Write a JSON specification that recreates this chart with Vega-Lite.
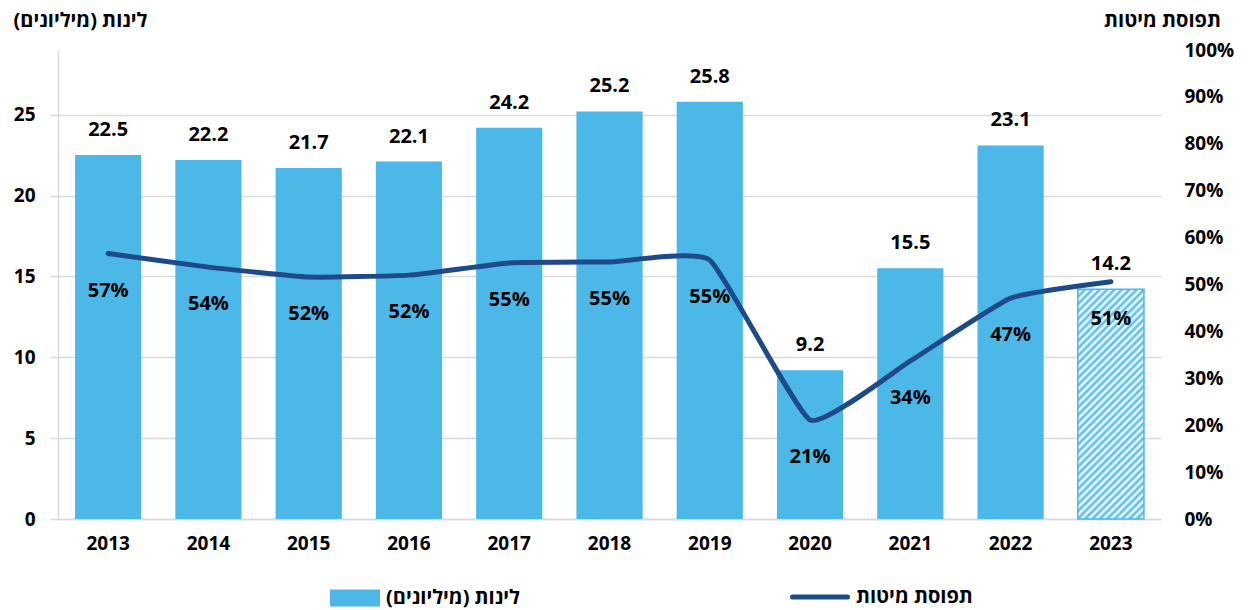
{
  "$schema": "https://vega.github.io/schema/vega-lite/v6.json",
  "width": 1103,
  "height": 469,
  "autosize": "none",
  "padding": {"left": 58, "top": 50, "right": 87, "bottom": 91},
  "background": "white",
  "config": {
    "font": "Open Sans",
    "view": {"stroke": null},
    "legend": {"padding": 0}
  },
  "data": {
    "values": [
      {"year": "2013", "nights": 22.5, "occ": 0.566, "forecast": false},
      {"year": "2014", "nights": 22.2, "occ": 0.537, "forecast": false},
      {"year": "2015", "nights": 21.7, "occ": 0.516, "forecast": false},
      {"year": "2016", "nights": 22.1, "occ": 0.52, "forecast": false},
      {"year": "2017", "nights": 24.2, "occ": 0.546, "forecast": false},
      {"year": "2018", "nights": 25.2, "occ": 0.548, "forecast": false},
      {"year": "2019", "nights": 25.8, "occ": 0.552, "forecast": false},
      {"year": "2020", "nights": 9.2, "occ": 0.211, "forecast": false},
      {"year": "2021", "nights": 15.5, "occ": 0.337, "forecast": false},
      {"year": "2022", "nights": 23.1, "occ": 0.471, "forecast": false},
      {"year": "2023", "nights": 14.2, "occ": 0.506, "forecast": true}
    ]
  },
  "encoding": {
    "x": {
      "field": "year",
      "type": "ordinal",
      "scale": {"paddingInner": 0.34, "paddingOuter": 0.17},
      "axis": {
        "title": null,
        "labelAngle": 0,
        "labelFontSize": 19,
        "labelFontWeight": "bold",
        "labelColor": "#000000",
        "labelPadding": 15,
        "ticks": false,
        "domainColor": "#d9d9d9",
        "domainWidth": 1.5
      }
    }
  },
  "layer": [
    {
      "encoding": {
        "y": {
          "field": "nights",
          "type": "quantitative",
          "scale": {"domain": [0, 29], "nice": false},
          "axis": {
            "values": [0, 5, 10, 15, 20, 25],
            "title": "לינות (מיליונים)",
            "titleAngle": 0,
            "titleX": 22,
            "titleY": -30,
            "titleAlign": "center",
            "titleBaseline": "middle",
            "titleFontSize": 20,
            "titleFontWeight": "bold",
            "titleColor": "#000000",
            "labelFontSize": 19,
            "labelFontWeight": "bold",
            "labelColor": "#000000",
            "labelPadding": 15,
            "tickSize": 8,
            "tickColor": "#d9d9d9",
            "tickWidth": 1.5,
            "domainColor": "#d9d9d9",
            "domainWidth": 1.5,
            "grid": true,
            "gridColor": "#d9d9d9",
            "gridWidth": 1.5
          }
        }
      },
      "layer": [
        {
          "mark": {"type": "bar"},
          "encoding": {
            "fill": {
              "datum": "לינות (מיליונים)",
              "scale": {"range": ["#4BB8E8"]},
              "legend": {
                "title": null,
                "orient": "none",
                "legendX": 272,
                "legendY": 523,
                "symbolType": "M-1,-0.34H1V0.34H-1Z",
                "symbolSize": 2500,
                "symbolStrokeWidth": 0,
                "labelFontSize": 20,
                "labelFontWeight": "bold",
                "labelColor": "#000000",
                "labelOffset": 6
              }
            }
          }
        },
        {
          "transform": [{"filter": "datum.forecast"}],
          "mark": {
            "type": "bar",
            "stroke": "#4BB8E8",
            "strokeWidth": 1.5,
            "fill": {
              "gradient": "linear",
              "x1": 0, "y1": 0, "x2": 0.343, "y2": 1.19,
              "stops": [
                {"offset": 0, "color": "#4BB8E8"}, {"offset": 0.0125, "color": "#ffffff"},
                {"offset": 0.025, "color": "#4BB8E8"}, {"offset": 0.0375, "color": "#ffffff"},
                {"offset": 0.05, "color": "#4BB8E8"}, {"offset": 0.0625, "color": "#ffffff"},
                {"offset": 0.075, "color": "#4BB8E8"}, {"offset": 0.0875, "color": "#ffffff"},
                {"offset": 0.1, "color": "#4BB8E8"}, {"offset": 0.1125, "color": "#ffffff"},
                {"offset": 0.125, "color": "#4BB8E8"}, {"offset": 0.1375, "color": "#ffffff"},
                {"offset": 0.15, "color": "#4BB8E8"}, {"offset": 0.1625, "color": "#ffffff"},
                {"offset": 0.175, "color": "#4BB8E8"}, {"offset": 0.1875, "color": "#ffffff"},
                {"offset": 0.2, "color": "#4BB8E8"}, {"offset": 0.2125, "color": "#ffffff"},
                {"offset": 0.225, "color": "#4BB8E8"}, {"offset": 0.2375, "color": "#ffffff"},
                {"offset": 0.25, "color": "#4BB8E8"}, {"offset": 0.2625, "color": "#ffffff"},
                {"offset": 0.275, "color": "#4BB8E8"}, {"offset": 0.2875, "color": "#ffffff"},
                {"offset": 0.3, "color": "#4BB8E8"}, {"offset": 0.3125, "color": "#ffffff"},
                {"offset": 0.325, "color": "#4BB8E8"}, {"offset": 0.3375, "color": "#ffffff"},
                {"offset": 0.35, "color": "#4BB8E8"}, {"offset": 0.3625, "color": "#ffffff"},
                {"offset": 0.375, "color": "#4BB8E8"}, {"offset": 0.3875, "color": "#ffffff"},
                {"offset": 0.4, "color": "#4BB8E8"}, {"offset": 0.4125, "color": "#ffffff"},
                {"offset": 0.425, "color": "#4BB8E8"}, {"offset": 0.4375, "color": "#ffffff"},
                {"offset": 0.45, "color": "#4BB8E8"}, {"offset": 0.4625, "color": "#ffffff"},
                {"offset": 0.475, "color": "#4BB8E8"}, {"offset": 0.4875, "color": "#ffffff"},
                {"offset": 0.5, "color": "#4BB8E8"}, {"offset": 0.5125, "color": "#ffffff"},
                {"offset": 0.525, "color": "#4BB8E8"}, {"offset": 0.5375, "color": "#ffffff"},
                {"offset": 0.55, "color": "#4BB8E8"}, {"offset": 0.5625, "color": "#ffffff"},
                {"offset": 0.575, "color": "#4BB8E8"}, {"offset": 0.5875, "color": "#ffffff"},
                {"offset": 0.6, "color": "#4BB8E8"}, {"offset": 0.6125, "color": "#ffffff"},
                {"offset": 0.625, "color": "#4BB8E8"}, {"offset": 0.6375, "color": "#ffffff"},
                {"offset": 0.65, "color": "#4BB8E8"}, {"offset": 0.6625, "color": "#ffffff"},
                {"offset": 0.675, "color": "#4BB8E8"}, {"offset": 0.6875, "color": "#ffffff"},
                {"offset": 0.7, "color": "#4BB8E8"}, {"offset": 0.7125, "color": "#ffffff"},
                {"offset": 0.725, "color": "#4BB8E8"}, {"offset": 0.7375, "color": "#ffffff"},
                {"offset": 0.75, "color": "#4BB8E8"}, {"offset": 0.7625, "color": "#ffffff"},
                {"offset": 0.775, "color": "#4BB8E8"}, {"offset": 0.7875, "color": "#ffffff"},
                {"offset": 0.8, "color": "#4BB8E8"}, {"offset": 0.8125, "color": "#ffffff"},
                {"offset": 0.825, "color": "#4BB8E8"}, {"offset": 0.8375, "color": "#ffffff"},
                {"offset": 0.85, "color": "#4BB8E8"}, {"offset": 0.8625, "color": "#ffffff"},
                {"offset": 0.875, "color": "#4BB8E8"}, {"offset": 0.8875, "color": "#ffffff"},
                {"offset": 0.9, "color": "#4BB8E8"}, {"offset": 0.9125, "color": "#ffffff"},
                {"offset": 0.925, "color": "#4BB8E8"}, {"offset": 0.9375, "color": "#ffffff"},
                {"offset": 0.95, "color": "#4BB8E8"}, {"offset": 0.9625, "color": "#ffffff"},
                {"offset": 0.975, "color": "#4BB8E8"}, {"offset": 0.9875, "color": "#ffffff"},
                {"offset": 1, "color": "#4BB8E8"}
              ]
            }
          },
          "encoding": {}
        },
        {
          "mark": {
            "type": "text",
            "dy": -25,
            "baseline": "middle",
            "fontSize": 20,
            "fontWeight": "bold",
            "color": "#000000"
          },
          "encoding": {
            "text": {"field": "nights", "type": "quantitative", "format": ".1f"}
          }
        }
      ]
    },
    {
      "encoding": {
        "y": {
          "field": "occ",
          "type": "quantitative",
          "scale": {"domain": [0, 1], "nice": false},
          "axis": {
            "orient": "right",
            "values": [0, 0.1, 0.2, 0.3, 0.4, 0.5, 0.6, 0.7, 0.8, 0.9, 1],
            "format": ".0%",
            "grid": false,
            "domain": false,
            "ticks": false,
            "labelPadding": 23,
            "labelFontSize": 19,
            "labelFontWeight": "bold",
            "labelColor": "#000000",
            "title": "תפוסת מיטות",
            "titleAngle": 0,
            "titleX": 1,
            "titleY": -30,
            "titleAlign": "center",
            "titleBaseline": "middle",
            "titleFontSize": 20,
            "titleFontWeight": "bold",
            "titleColor": "#000000"
          }
        }
      },
      "layer": [
        {
          "mark": {
            "type": "line",
            "strokeWidth": 5,
            "strokeCap": "round",
            "interpolate": "cardinal",
            "tension": 0.6
          },
          "encoding": {
            "stroke": {
              "datum": "תפוסת מיטות",
              "scale": {"range": ["#1F4A8A"]},
              "legend": {
                "title": null,
                "orient": "none",
                "legendX": 732,
                "legendY": 517,
                "symbolType": "stroke",
                "symbolSize": 3025,
                "symbolStrokeWidth": 5,
                "labelFontSize": 20,
                "labelFontWeight": "bold",
                "labelColor": "#000000",
                "labelOffset": 6,
                "encode": {"symbols": {"update": {"strokeCap": {"value": "round"}}}}
              }
            }
          }
        },
        {
          "mark": {
            "type": "text",
            "dy": 37,
            "baseline": "middle",
            "fontSize": 20,
            "fontWeight": "bold",
            "color": "#000000"
          },
          "encoding": {
            "text": {"field": "occ", "type": "quantitative", "format": ".0%"}
          }
        }
      ]
    }
  ],
  "resolve": {"scale": {"y": "independent"}}
}
